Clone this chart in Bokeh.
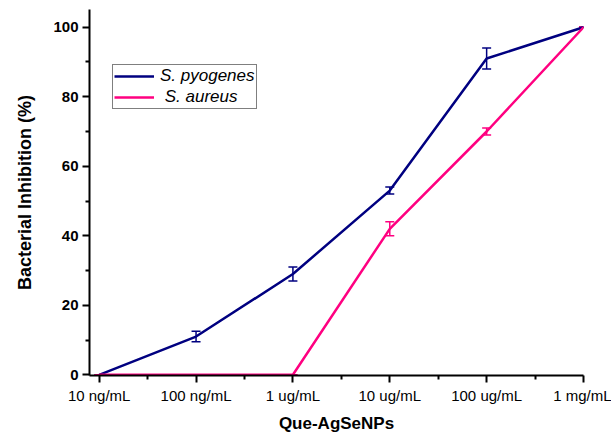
from bokeh.plotting import figure
from bokeh.models import (ColumnDataSource, Whisker, TeeHead, FixedTicker, Range1d,
                          Legend, LegendItem)
from bokeh.embed import file_html
from bokeh.resources import INLINE

# ---- data ----
concentrations = ["10 ng/mL", "100 ng/mL", "1 ug/mL", "10 ug/mL", "100 ug/mL", "1 mg/mL"]
pyogenes = [0, 11, 29, 53, 91, 100]
pyogenes_err = [0, 1.5, 2, 1, 3, 0]
aureus = [0, 0, 0, 42, 70, 100]
aureus_err = [0, 0, 0, 2, 1, 0]
y_ticks = [0, 20, 40, 60, 80, 100]

NAVY = "#000080"
PINK = "#FF0080"
FONT = "Liberation Sans"

x = list(range(len(concentrations)))

p = figure(width=611, height=435, output_backend="svg", toolbar_location=None,
           x_range=Range1d(-0.1, 5.0), y_range=Range1d(-0.2, 105.1),
           min_border_left=89, min_border_right=28, min_border_top=9,
           min_border_bottom=60)
p.outline_line_color = None
p.xgrid.visible = False
p.ygrid.visible = False
p.background_fill_color = "white"
p.border_fill_color = "white"

def band(vals, errs):
    return ColumnDataSource(dict(x=x, y=vals,
                                 lo=[v - e for v, e in zip(vals, errs)],
                                 hi=[v + e for v, e in zip(vals, errs)]))

src_p = band(pyogenes, pyogenes_err)
src_a = band(aureus, aureus_err)

r_p = p.line("x", "y", source=src_p, line_color=NAVY, line_width=2.5)
r_a = p.line("x", "y", source=src_a, line_color=PINK, line_width=2.5)

for src, col in ((src_p, NAVY), (src_a, PINK)):
    w = Whisker(source=src, base="x", lower="lo", upper="hi",
                line_color=col, line_width=1.5,
                upper_head=TeeHead(size=9, line_color=col, line_width=1.5),
                lower_head=TeeHead(size=9, line_color=col, line_width=1.5))
    p.add_layout(w)

# axes
xa = p.xaxis[0]
xa.ticker = FixedTicker(ticks=x, minor_ticks=[i + 0.5 for i in x[:-1]])
xa.major_label_overrides = {i: c for i, c in zip(x, concentrations)}
xa.axis_label = "Que-AgSeNPs"
xa.axis_label_standoff = 7
xa.major_label_standoff = 4

ya = p.yaxis[0]
ya.ticker = FixedTicker(ticks=y_ticks, minor_ticks=[10, 30, 50, 70, 90])
ya.axis_label = "Bacterial Inhibition (%)"
ya.axis_label_standoff = 15
ya.major_label_standoff = 4

for ax in (xa, ya):
    ax.axis_line_width = 2
    ax.axis_line_color = "black"
    ax.major_tick_line_width = 2
    ax.minor_tick_line_width = 2
    ax.major_tick_out = 7
    ax.major_tick_in = 0
    ax.minor_tick_out = 4
    ax.minor_tick_in = 0
    ax.major_label_text_font = FONT
    ax.major_label_text_font_size = "15px"
    ax.major_label_text_color = "black"
    ax.axis_label_text_font = FONT
    ax.axis_label_text_font_style = "bold"
    ax.axis_label_text_color = "black"

ya.major_label_text_font_style = "bold"
xa.axis_label_text_font_size = "17px"
ya.axis_label_text_font_size = "18px"

legend = Legend(items=[LegendItem(label="S. pyogenes", renderers=[r_p]),
                       LegendItem(label=" S. aureus", renderers=[r_a])],
                location=(23, 266), orientation="vertical",
                padding=1, margin=0, spacing=1,
                glyph_width=40, glyph_height=20, label_height=20,
                label_standoff=6,
                label_text_font=FONT, label_text_font_style="italic",
                label_text_font_size="17px", label_text_color="black",
                border_line_color="black", border_line_width=1,
                background_fill_alpha=1.0)
p.add_layout(legend)

open("out.html", "w").write(file_html(p, INLINE))
